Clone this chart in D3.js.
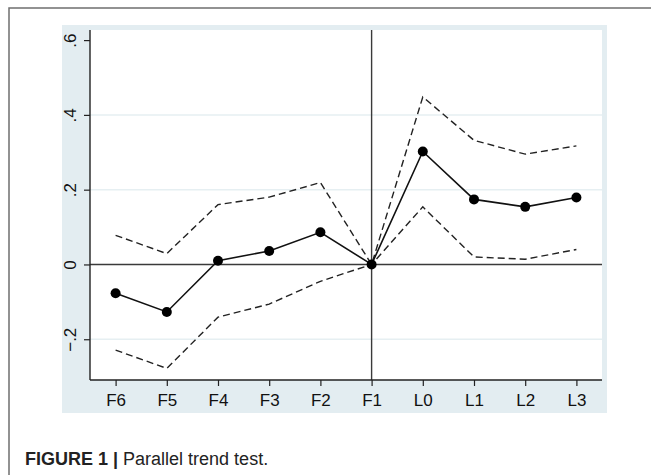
<!DOCTYPE html>
<html>
<head>
<meta charset="utf-8">
<script src="https://cdn.jsdelivr.net/npm/d3@7"></script>
<style>
  html, body { margin: 0; padding: 0; background: #fff; }
  svg { display: block; font-family: "Liberation Sans", Arial, sans-serif; }
</style>
</head>
<body>
<svg id="chart" width="651" height="475"></svg>
<script>
// Parallel trend test — event study coefficients with 95% CI

const periods = ["F6", "F5", "F4", "F3", "F2", "F1", "L0", "L1", "L2", "L3"];
const coef  = [-0.077, -0.127, 0.010, 0.036, 0.086, 0.000, 0.302, 0.174, 0.154, 0.179];
const upper = [0.078, 0.029, 0.160, 0.180, 0.219, 0.000, 0.448, 0.332, 0.295, 0.317];
const lower = [-0.229, -0.278, -0.141, -0.106, -0.045, 0.000, 0.154, 0.020, 0.014, 0.040];
const yTicks = [-0.2, 0, 0.2, 0.4, 0.6];
const gridTicks = [-0.2, 0.2, 0.4];

const svg = d3.select("#chart");

// outer figure frame (top + left edges visible)
svg.append("rect")
  .attr("x", 9).attr("y", 8)
  .attr("width", 700).attr("height", 500)
  .attr("fill", "none")
  .attr("stroke", "#6f6f6f")
  .attr("stroke-width", 1.5);

// stata-like light blue graph region
svg.append("rect")
  .attr("x", 62).attr("y", 25)
  .attr("width", 545).attr("height", 388)
  .attr("fill", "#e3edf1");

const plot = { left: 90, right: 602, top: 30, bottom: 380 };

svg.append("rect")
  .attr("x", plot.left).attr("y", plot.top)
  .attr("width", plot.right - plot.left).attr("height", plot.bottom - plot.top)
  .attr("fill", "#ffffff");

const x = d3.scaleLinear().domain([-0.5, 9.5]).range([plot.left, plot.right]);
const y = d3.scaleLinear().domain([-0.309, 0.627]).range([plot.bottom, plot.top]);

// gridlines
svg.append("g")
  .selectAll("line")
  .data(gridTicks)
  .enter()
  .append("line")
  .attr("x1", plot.left).attr("x2", plot.right)
  .attr("y1", d => y(d)).attr("y2", d => y(d))
  .attr("stroke", "#e6eff2")
  .attr("stroke-width", 1.5);

// reference lines
svg.append("line")
  .attr("x1", plot.left).attr("x2", plot.right)
  .attr("y1", y(0)).attr("y2", y(0))
  .attr("stroke", "#3a3a3a").attr("stroke-width", 1.4);

svg.append("line")
  .attr("x1", x(5)).attr("x2", x(5))
  .attr("y1", plot.top).attr("y2", plot.bottom)
  .attr("stroke", "#3a3a3a").attr("stroke-width", 1.4);

// y axis
const yAxis = svg.append("g")
  .attr("transform", `translate(${plot.left},0)`)
  .call(d3.axisLeft(y).tickValues(yTicks).tickSize(6).tickPadding(4)
    .tickFormat(d => d === 0 ? "0" : d3.format(".1f")(d).replace("0.", ".")));
yAxis.select(".domain").attr("d", `M0,${plot.top}V${plot.bottom}`).attr("stroke", "#222").attr("stroke-width", 1.4);
yAxis.selectAll(".tick line").attr("stroke", "#222").attr("stroke-width", 1.2);
yAxis.selectAll(".tick text")
  .attr("font-size", 17)
  .attr("fill", "#111")
  .attr("text-anchor", "middle")
  .attr("x", 0).attr("dy", 0)
  .attr("transform", "translate(-14,0) rotate(-90)");

// x axis
const xAxis = svg.append("g")
  .attr("transform", `translate(0,${plot.bottom})`)
  .call(d3.axisBottom(x).tickValues(d3.range(periods.length)).tickSize(6).tickPadding(8)
    .tickFormat(i => periods[i]));
xAxis.select(".domain").attr("d", `M${plot.left},0H${plot.right}`).attr("stroke", "#222").attr("stroke-width", 1.4);
xAxis.selectAll(".tick line").attr("stroke", "#222").attr("stroke-width", 1.2);
xAxis.selectAll(".tick text").attr("font-size", 17).attr("fill", "#111");

// confidence bounds
const line = d3.line().x((d, i) => x(i)).y(d => y(d));

[upper, lower].forEach(series => {
  svg.append("path")
    .datum(series)
    .attr("d", line)
    .attr("fill", "none")
    .attr("stroke", "#222")
    .attr("stroke-width", 1.4)
    .attr("stroke-dasharray", "7,4");
});

// point estimates
svg.append("path")
  .datum(coef)
  .attr("d", line)
  .attr("fill", "none")
  .attr("stroke", "#111")
  .attr("stroke-width", 1.6);

svg.append("g")
  .selectAll("circle")
  .data(coef)
  .enter()
  .append("circle")
  .attr("cx", (d, i) => x(i))
  .attr("cy", d => y(d))
  .attr("r", 5)
  .attr("fill", "#000");

// caption
const cap = svg.append("text")
  .attr("x", 25).attr("y", 465)
  .attr("font-size", 18)
  .attr("fill", "#222");
cap.append("tspan").attr("font-weight", "bold").text("FIGURE 1 | ");
cap.append("tspan").text("Parallel trend test.");
</script>
</body>
</html>
